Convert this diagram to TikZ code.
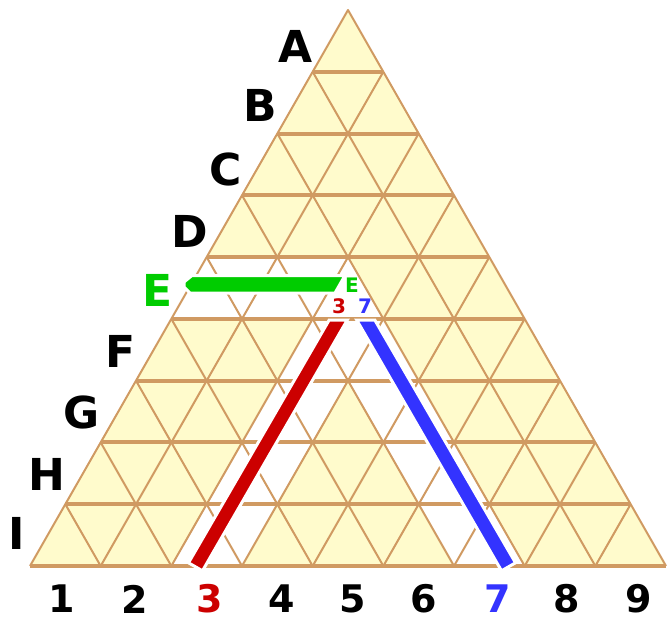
\documentclass[tikz,border=0pt]{standalone}
\usepackage{fontspec}
\setmainfont{DejaVu Sans}
\definecolor{cream}{HTML}{FFFBCC}
\definecolor{gridtan}{HTML}{D09A62}
\definecolor{myred}{HTML}{CC0000}
\definecolor{myblue}{HTML}{3333FF}
\definecolor{mygreen}{HTML}{00CC00}
\tikzset{
  hline/.style={draw=gridtan,line width=4pt},
  dline/.style={draw=gridtan,line width=2pt},
  biglabel/.style={font=\fontsize{44}{44}\selectfont\bfseries,inner sep=0pt,anchor=center},
  numlabel/.style={font=\fontsize{38}{38}\selectfont\bfseries,inner sep=0pt,anchor=center},
  smalllabel/.style={font=\fontsize{20}{20}\selectfont\bfseries,inner sep=0pt,anchor=center},
  bar/.style={draw=white,line width=3pt,line join=miter}
}
\begin{document}
\begin{tikzpicture}[x=1pt,y=-1pt]
\useasboundingbox (0,0) rectangle (667,623);
% background triangle
\fill[cream] (30,566) -- (348,10) -- (666,566) -- cycle;
% white cells
\fill[white] (206.67,257.11) -- (348,257.11) -- (383.33,318.89) -- (171.33,318.89) -- cycle;
\fill[white] (171.33,566) -- (242,566) -- (383.33,318.89) -- (312.67,318.89) -- cycle;
\fill[white] (454,566) -- (524.67,566) -- (383.33,318.89) -- (312.67,318.89) -- cycle;
% grid: diagonals
\foreach \j in {1,...,8} {
  \draw[dline] ({30+70.667*\j},566) -- ({348+35.333*\j},{10+61.778*\j});
  \draw[dline] ({30+70.667*\j},566) -- ({30+35.333*\j},{566-61.778*\j});
}
\draw[dline,line join=round] (30,566) -- (348,10) -- (666,566);
% grid: horizontals
\foreach \k in {1,...,9} {
  \draw[hline] ({348-35.333*\k},{10+61.778*\k}) -- ({348+35.333*\k},{10+61.778*\k});
}
% constraint bars
\filldraw[bar,fill=mygreen] (192,275.5) -- (184,282) -- (184,287) -- (190,293) -- (335,293) -- (345,275.5) -- cycle;
\filldraw[bar,fill=myred] (188.5,562.8) -- (202.5,570.8) -- (347.3,320) -- (329.2,320) -- cycle;
\filldraw[bar,fill=myblue] (515.5,562.8) -- (501.5,570.8) -- (356.7,320) -- (374.8,320) -- cycle;
% row labels
\node[biglabel] (lA) at (296,46) {A};
\node[biglabel] (lB) at (260,105) {B};
\node[biglabel] (lC) at (226,169) {C};
\node[biglabel] (lD) at (190,231) {D};
\node[biglabel,text=mygreen] (lE) at (158,290) {E};
\node[biglabel] (lF) at (121,351) {F};
\node[biglabel] (lG) at (82,412) {G};
\node[biglabel] (lH) at (47,474) {H};
\node[biglabel] (lI) at (17,533) {I};
% column labels
\node[numlabel] (n1) at (62,599) {1};
\node[numlabel] (n2) at (135,599) {2};
\node[numlabel,text=myred] (n3) at (210,599) {3};
\node[numlabel] (n4) at (282,599) {4};
\node[numlabel] (n5) at (353,599) {5};
\node[numlabel] (n6) at (424,599) {6};
\node[numlabel,text=myblue] (n7) at (498,599) {7};
\node[numlabel] (n8) at (567,599) {8};
\node[numlabel] (n9) at (639,599) {9};
% small labels in the target cell
\node[smalllabel,text=mygreen] (sE) at (352,285) {E};
\node[smalllabel,text=myred] (s3) at (339,306) {3};
\node[smalllabel,text=myblue] (s7) at (365,306) {7};
\end{tikzpicture}
\end{document}
